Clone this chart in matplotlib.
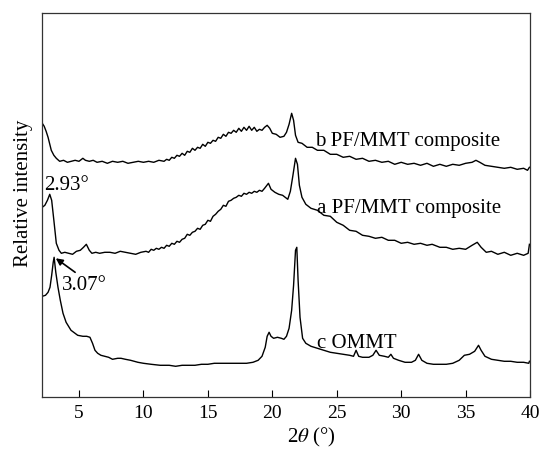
import matplotlib
matplotlib.use("Agg")
import matplotlib.pyplot as plt

# === XRD traces (2theta in degrees, intensity in a.u.) ===
b_theta = [2.15, 2.3, 2.45, 2.6, 2.85, 3.05, 3.24, 3.5, 3.8, 4.1, 4.4, 4.7, 5.0, 5.3,
           5.5, 5.8, 6.1, 6.4, 6.8, 7.2, 7.6, 8.0, 8.4, 8.8, 9.2, 9.6, 10.0, 10.4,
           10.8, 11.2, 11.6, 11.8, 12.0, 12.2, 12.4, 12.6, 12.8, 13.0, 13.2, 13.4,
           13.6, 13.8, 14.0, 14.2, 14.4, 14.6, 14.8, 15.0, 15.2, 15.4, 15.6, 15.8,
           16.0, 16.2, 16.4, 16.6, 16.8, 17.0, 17.2, 17.4, 17.6, 17.8, 18.0, 18.2,
           18.4, 18.6, 18.8, 19.0, 19.2, 19.4, 19.6, 19.8, 20.0, 20.3, 20.6, 20.9,
           21.1, 21.3, 21.5, 21.65, 21.8, 22.0, 22.3, 22.7, 23.1, 23.5, 24.0, 24.5,
           25.0, 25.5, 26.0, 26.5, 27.0, 27.5, 28.0, 28.5, 29.0, 29.5, 30.0, 30.5,
           31.0, 31.5, 32.0, 32.5, 33.0, 33.5, 34.0, 34.5, 35.0, 35.5, 35.8, 36.1,
           36.5, 37.0, 37.5, 38.0, 38.5, 39.0, 39.5, 39.8, 39.95]
b_int = [277, 274, 269, 263, 250, 245, 242, 239, 240, 238, 239, 240, 239, 242,
         240, 239, 240, 238, 239, 237, 239, 238, 239, 237, 238, 239, 238, 239,
         238, 240, 239, 241, 240, 243, 242, 245, 244, 247, 245, 249,
         248, 252, 250, 253, 252, 256, 254, 258, 257, 260, 259, 263,
         262, 266, 264, 268, 267, 270, 268, 272, 269, 273, 270, 274,
         270, 273, 269, 271, 270, 273, 275, 272, 267, 266, 263, 264,
         268, 276, 287, 280, 265, 258, 257, 253, 253, 250, 250, 246,
         246, 243, 244, 241, 242, 239, 240, 238, 239, 236, 238, 236,
         237, 235, 237, 234, 236, 234, 236, 235, 237, 238, 240, 238,
         235, 234, 233, 232, 233, 231, 232, 230, 233]

a_theta = [2.15, 2.35, 2.55, 2.73, 2.88, 3.05, 3.24, 3.45, 3.63, 3.9, 4.2, 4.5,
           4.8, 5.1, 5.35, 5.57, 5.8, 6.0, 6.3, 6.6, 7.0, 7.4, 7.8, 8.2, 8.6, 9.0,
           9.4, 9.8, 10.2, 10.4, 10.6, 10.8, 11.0, 11.2, 11.4, 11.6, 11.8, 12.0,
           12.2, 12.4, 12.6, 12.8, 13.0, 13.2, 13.4, 13.6, 13.8, 14.0, 14.2, 14.4,
           14.6, 14.8, 15.0, 15.2, 15.4, 15.6, 15.8, 16.0, 16.2, 16.4, 16.6, 16.8,
           17.0, 17.2, 17.4, 17.6, 17.8, 18.0, 18.2, 18.4, 18.6, 18.8, 19.0, 19.2,
           19.4, 19.7, 19.9, 20.2, 20.5, 20.8, 21.0, 21.2, 21.4, 21.6, 21.8,
           21.95, 22.1, 22.3, 22.6, 23.0, 23.5, 24.0, 24.5, 25.0, 25.5, 26.0, 26.5,
           27.0, 27.5, 28.0, 28.5, 29.0, 29.5, 30.0, 30.5, 31.0, 31.5, 32.0, 32.4,
           33.0, 33.5, 34.0, 34.5, 35.0, 35.5, 35.9, 36.2, 36.6, 37.0, 37.5, 38.0,
           38.5, 39.0, 39.5, 39.85, 39.95]
a_int = [193, 195, 200, 206, 200, 180, 157, 150, 147, 148, 147, 146,
         149, 150, 153, 156, 150, 147, 148, 147, 148, 148, 147, 149, 148, 147,
         146, 148, 149, 148, 151, 150, 152, 151, 153, 152, 155, 154,
         157, 156, 159, 158, 161, 162, 166, 165, 168, 169, 172, 171,
         175, 176, 180, 179, 184, 186, 189, 191, 195, 194, 199, 200,
         202, 203, 205, 204, 207, 206, 208, 207, 209, 208, 210, 209,
         212, 217, 211, 208, 206, 205, 203, 201, 209, 225, 242,
         236, 215, 203, 196, 192, 190, 185, 184, 178, 175, 170, 169,
         165, 164, 162, 163, 160, 160, 157, 158, 156, 157, 155, 156,
         153, 153, 151, 152, 151, 155, 158, 153, 148, 149, 146, 148,
         145, 147, 145, 147, 156]

c_theta = [2.15, 2.4, 2.6, 2.75, 2.88, 3.0, 3.07, 3.2, 3.37, 3.55, 3.76, 4.0,
           4.38, 4.9, 5.3, 5.6, 5.85, 6.05, 6.24, 6.45, 6.7, 7.0, 7.3, 7.6, 8.0,
           8.26, 8.6, 9.0, 9.57, 10.0, 10.6, 11.3, 12.0, 12.5, 13.0, 13.5, 14.0,
           14.5, 15.0, 15.5, 16.0, 16.5, 17.0, 17.5, 18.0, 18.5, 18.9, 19.2, 19.45,
           19.6, 19.75, 19.9, 20.1, 20.4, 20.7, 20.9, 21.1, 21.3, 21.5, 21.65, 21.8,
           21.9, 22.0, 22.15, 22.35, 22.6, 23.0, 23.5, 24.0, 24.5, 25.0, 25.5, 26.0,
           26.3, 26.5, 26.7, 27.0, 27.5, 27.8, 28.05, 28.3, 28.7, 29.0, 29.2, 29.4,
           29.8, 30.3, 30.8, 31.1, 31.35, 31.6, 32.0, 32.5, 33.0, 33.5, 34.0, 34.5,
           34.9, 35.3, 35.7, 36.0, 36.2, 36.5, 37.0, 37.5, 38.0, 38.5, 39.0, 39.5,
           39.9, 39.95]
c_int = [104, 105, 108, 113, 125, 138, 143, 128, 113, 100, 87, 78,
         70, 65, 64, 64, 63, 57, 50, 47, 45, 44, 43, 41, 42,
         42, 41, 40, 38, 37, 36, 35, 35, 34, 35, 35, 35,
         36, 36, 37, 37, 37, 37, 37, 37, 38, 40, 44, 53,
         64, 68, 64, 62, 63, 62, 61, 64, 72, 90, 115, 150,
         153, 120, 83, 62, 57, 54, 52, 50, 48, 47, 46, 45,
         44, 50, 44, 43, 43, 45, 50, 45, 44, 43, 46, 42,
         40, 38, 38, 40, 46, 40, 37, 36, 36, 36, 37, 40,
         45, 46, 49, 55, 50, 44, 41, 40, 39, 39, 38, 38,
         37, 39]

curve_labels = ["b PF/MMT composite", "a PF/MMT composite", "c OMMT"]
x_ticks = [5, 10, 15, 20, 25, 30, 35, 40]

plt.rcParams["font.family"] = ["Liberation Serif", "DejaVu Serif"]
plt.rcParams["mathtext.fontset"] = "stix"

fig = plt.figure(figsize=(5.42, 4.55), dpi=100)
ax = fig.add_axes([0.0775, 0.1275, 0.9005, 0.8439])

for th, inten in [(b_theta, b_int), (a_theta, a_int), (c_theta, c_int)]:
    ax.plot(th, inten, color="black", lw=1.0)

# curve labels
ax.text(23.3, 254, curve_labels[0], fontsize=15, va="baseline")
ax.text(23.5, 187, curve_labels[1], fontsize=15, va="baseline")
ax.text(23.5, 52, curve_labels[2], fontsize=15, va="baseline")

# peak annotations
ax.text(2.3, 210, "2.93°", fontsize=15, va="baseline")
ax.annotate("", xy=(3.2, 142), xytext=(4.7, 128),
            arrowprops=dict(arrowstyle="-|>", color="black", lw=1.2,
                            mutation_scale=10, shrinkA=0, shrinkB=0))
ax.text(3.7, 110, "3.07°", fontsize=15, va="baseline")

ax.set_xlim(2.13, 40)
ax.set_ylim(3.3, 387.3)
ax.set_xticks(x_ticks)
ax.set_yticks([])
ax.tick_params(axis="x", direction="in", length=5, labelsize=14, pad=6)
ax.set_xlabel(r"2$\theta$ (°)", fontsize=15)
ax.xaxis.set_label_coords(0.553, -0.075)
ax.set_ylabel("Relative intensity", fontsize=15)
ax.yaxis.set_label_coords(-0.018, 0.53)

for sp in ax.spines.values():
    sp.set_linewidth(0.9)
    sp.set_color("#333333")

fig.savefig("out.png", dpi=100)
